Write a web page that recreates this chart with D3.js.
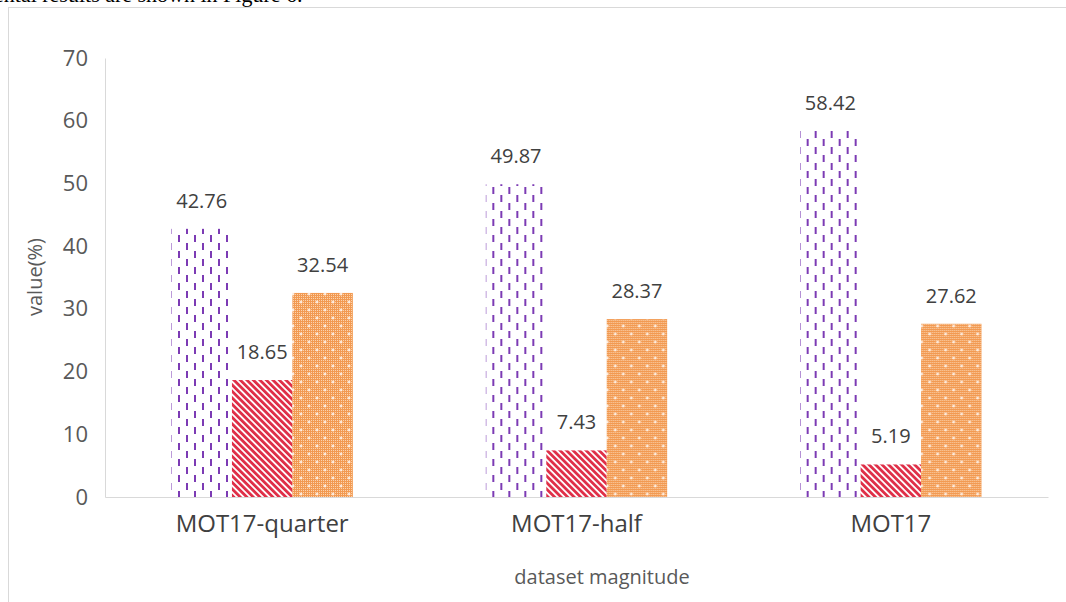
<!DOCTYPE html>
<html>
<head>
<meta charset="utf-8">
<script src="https://cdn.jsdelivr.net/npm/d3@7"></script>
<style>
  body { margin: 0; background: #fff; }
  svg { display: block; }
</style>
</head>
<body>
<div id="chart-area"></div>
<script>
// data
var categories = ['MOT17-quarter', 'MOT17-half', 'MOT17'];
var seriesNames = ['a', 'b', 'c'];
var seriesA = [42.76, 49.87, 58.42];
var seriesB = [18.65, 7.43, 5.19];
var seriesC = [32.54, 28.37, 27.62];
var yTicks = [0, 10, 20, 30, 40, 50, 60, 70];

var width = 1066;
var height = 602;

var margin = { left: 105, right: 18, top: 58, bottom: 105 };
var plotWidth = width - margin.left - margin.right;
var plotHeight = height - margin.top - margin.bottom;

var svg = d3.select('#chart-area')
  .append('svg')
    .attr('width', width)
    .attr('height', height);

// patterns for the three series
var defs = svg.append('defs');

var dash = defs.append('pattern')
  .attr('id', 'pat-a')
  .attr('patternUnits', 'userSpaceOnUse')
  .attr('width', 16).attr('height', 16)
  .attr('x', margin.left);
dash.append('rect').attr('x', 0).attr('y', 1).attr('width', 2).attr('height', 7).attr('fill', '#7c3bb4');
dash.append('rect').attr('x', 8).attr('y', 9).attr('width', 2).attr('height', 7).attr('fill', '#7c3bb4');

var stripe = defs.append('pattern')
  .attr('id', 'pat-b')
  .attr('patternUnits', 'userSpaceOnUse')
  .attr('width', 4.6).attr('height', 4.6)
  .attr('patternTransform', 'rotate(-45)');
stripe.append('rect').attr('width', 4.6).attr('height', 4.6).attr('fill', '#fff');
stripe.append('rect').attr('width', 2.8).attr('height', 4.6).attr('fill', '#df2f48');

var checker = defs.append('pattern')
  .attr('id', 'pat-check')
  .attr('patternUnits', 'userSpaceOnUse')
  .attr('width', 2).attr('height', 2);
checker.append('rect').attr('width', 2).attr('height', 2).attr('fill', '#f29a52');
checker.append('rect').attr('width', 1).attr('height', 1).attr('fill', '#fbd3ae');

var dots = defs.append('pattern')
  .attr('id', 'pat-c')
  .attr('patternUnits', 'userSpaceOnUse')
  .attr('width', 16).attr('height', 16);
dots.append('rect').attr('width', 16).attr('height', 16).attr('fill', 'url(#pat-check)');
[[4, 4], [12, 12]].forEach(function (p) {
  dots.append('rect').attr('x', p[0] - 1.5).attr('y', p[1] - 0.5).attr('width', 3).attr('height', 1).attr('fill', '#fff');
  dots.append('rect').attr('x', p[0] - 0.5).attr('y', p[1] - 1.5).attr('width', 1).attr('height', 3).attr('fill', '#fff');
});

var fills = ['url(#pat-a)', 'url(#pat-b)', 'url(#pat-c)'];

// cropped line of the surrounding page text
svg.append('text')
  .attr('x', -6)
  .attr('y', 2)
  .attr('font-family', 'Liberation Serif, serif')
  .attr('font-size', '22px')
  .attr('fill', '#000')
  .text('ental results are shown in Figure 6.');

// chart frame (runs off the page to the right and bottom)
svg.append('rect')
  .attr('x', 8.5).attr('y', 7.5)
  .attr('width', 1200).attr('height', 800)
  .attr('fill', 'none')
  .attr('stroke', '#d9d9d9');

var graph = svg.append('g')
  .attr('transform', `translate(${margin.left}, ${margin.top})`);

var x0 = d3.scaleBand()
  .domain(categories)
  .range([0, plotWidth]);

var x1 = d3.scaleBand()
  .domain(seriesNames)
  .range([0, x0.bandwidth()])
  .paddingOuter(1.1);

var y = d3.scaleLinear()
  .domain([0, 70])
  .range([plotHeight, 0]);

// y axis
var yAxis = graph.append('g')
  .attr('class', 'y-axis')
  .call(d3.axisLeft(y).tickValues(yTicks).tickSize(0).tickPadding(17));
yAxis.select('.domain').attr('stroke', '#d9d9d9');
yAxis.selectAll('text')
  .attr('font-family', 'Open Sans, sans-serif')
  .attr('font-size', '22px')
  .attr('fill', '#595959');

// bars
var table = categories.map(function (c, i) {
  return { cat: c, values: [seriesA[i], seriesB[i], seriesC[i]] };
});

var groups = graph.selectAll('.group')
  .data(table)
  .enter()
  .append('g')
    .attr('class', 'group')
    .attr('transform', d => `translate(${x0(d.cat)}, 0)`);

groups.selectAll('rect')
  .data(d => d.values.map((v, j) => ({ key: seriesNames[j], value: v, idx: j })))
  .enter()
  .append('rect')
    .attr('x', d => x1(d.key))
    .attr('y', d => y(d.value))
    .attr('width', x1.bandwidth())
    .attr('height', d => plotHeight - y(d.value))
    .attr('fill', d => fills[d.idx]);

groups.selectAll('.label')
  .data(d => d.values.map((v, j) => ({ key: seriesNames[j], value: v })))
  .enter()
  .append('text')
    .attr('class', 'label')
    .attr('x', d => x1(d.key) + x1.bandwidth() / 2)
    .attr('y', d => y(d.value) - 21)
    .attr('text-anchor', 'middle')
    .attr('font-family', 'Open Sans, sans-serif')
    .attr('font-size', '20px')
    .attr('fill', '#404040')
    .text(d => d.value.toFixed(2));

// x axis
var xAxis = graph.append('g')
  .attr('class', 'x-axis')
  .attr('transform', `translate(0, ${plotHeight})`)
  .call(d3.axisBottom(x0).tickSize(0).tickPadding(18));
xAxis.select('.domain').attr('stroke', '#d9d9d9');
xAxis.selectAll('text')
  .attr('font-family', 'Open Sans, sans-serif')
  .attr('font-size', '24px')
  .attr('fill', '#404040');

// axis titles
svg.append('text')
  .attr('transform', 'rotate(-90)')
  .attr('x', -277)
  .attr('y', 42)
  .attr('text-anchor', 'middle')
  .attr('font-family', 'Open Sans, sans-serif')
  .attr('font-size', '20px')
  .attr('fill', '#595959')
  .text('value(%)');

svg.append('text')
  .attr('x', 602)
  .attr('y', 584)
  .attr('text-anchor', 'middle')
  .attr('font-family', 'Open Sans, sans-serif')
  .attr('font-size', '20px')
  .attr('fill', '#595959')
  .text('dataset magnitude');
</script>
</body>
</html>
